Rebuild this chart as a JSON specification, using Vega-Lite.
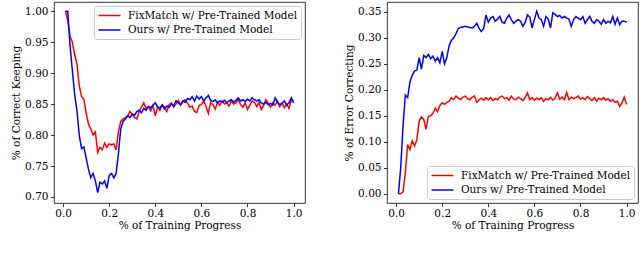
{
  "$schema": "https://vega.github.io/schema/vega-lite/v6.json",
  "padding": {"left": 10, "top": 1, "right": 0, "bottom": 0},
  "background": "white",
  "config": {
    "font": "DejaVu Serif",
    "view": {"stroke": "#000000", "strokeWidth": 0.8},
    "axis": {"grid": false, "domain": false, "tickColor": "#000000", "tickSize": 3.5, "tickWidth": 0.8, "labelFont": "DejaVu Serif", "labelFontSize": 10.5, "labelColor": "#000000", "labelPadding": 2.5, "titleFont": "DejaVu Serif", "titleFontSize": 10.5, "titleFontWeight": "normal", "titleColor": "#000000"},
    "axisX": {"titlePadding": 2, "labelPadding": 1.5},
    "axisY": {"titlePadding": 3.5},
    "legend": {"symbolType": "M-2,0H2", "symbolStrokeWidth": 1.5, "symbolSize": 121, "symbolOffset": 6, "labelFont": "DejaVu Serif", "labelFontSize": 10.5, "labelColor": "#000000", "labelLimit": 300, "strokeColor": "#cccccc", "fillColor": "#ffffff", "cornerRadius": 3, "padding": 3, "offset": 4, "labelOffset": 12, "rowPadding": 2.5}
  },
  "datasets": {
    "ck": [
      {"p":0.01,"fix":1.000,"ours":1.000},{"p":0.02,"fix":0.985,"ours":1.000},{"p":0.03,"fix":0.960,"ours":0.945},{"p":0.04,"fix":0.950,"ours":0.905},{"p":0.05,"fix":0.930,"ours":0.866},
      {"p":0.06,"fix":0.915,"ours":0.840},{"p":0.07,"fix":0.880,"ours":0.800},{"p":0.08,"fix":0.862,"ours":0.778},{"p":0.09,"fix":0.858,"ours":0.781},{"p":0.10,"fix":0.835,"ours":0.763},
      {"p":0.11,"fix":0.818,"ours":0.745},{"p":0.12,"fix":0.810,"ours":0.731},{"p":0.13,"fix":0.800,"ours":0.738},{"p":0.14,"fix":0.805,"ours":0.726},{"p":0.15,"fix":0.772,"ours":0.707},
      {"p":0.16,"fix":0.780,"ours":0.724},{"p":0.17,"fix":0.776,"ours":0.721},{"p":0.18,"fix":0.787,"ours":0.726},{"p":0.19,"fix":0.780,"ours":0.714},{"p":0.20,"fix":0.786,"ours":0.735},
      {"p":0.21,"fix":0.784,"ours":0.738},{"p":0.22,"fix":0.786,"ours":0.731},{"p":0.23,"fix":0.776,"ours":0.738},{"p":0.24,"fix":0.805,"ours":0.770},{"p":0.25,"fix":0.822,"ours":0.810},
      {"p":0.26,"fix":0.826,"ours":0.822},{"p":0.27,"fix":0.828,"ours":0.826},{"p":0.28,"fix":0.830,"ours":0.831},{"p":0.29,"fix":0.838,"ours":0.828},{"p":0.30,"fix":0.833,"ours":0.834},
      {"p":0.31,"fix":0.828,"ours":0.832},{"p":0.32,"fix":0.826,"ours":0.838},{"p":0.33,"fix":0.838,"ours":0.840},{"p":0.34,"fix":0.845,"ours":0.836},{"p":0.35,"fix":0.852,"ours":0.843},
      {"p":0.36,"fix":0.843,"ours":0.840},{"p":0.37,"fix":0.846,"ours":0.846},{"p":0.38,"fix":0.839,"ours":0.844},{"p":0.39,"fix":0.848,"ours":0.848},{"p":0.40,"fix":0.831,"ours":0.852},
      {"p":0.41,"fix":0.846,"ours":0.845},{"p":0.42,"fix":0.840,"ours":0.844},{"p":0.43,"fix":0.849,"ours":0.848},{"p":0.44,"fix":0.845,"ours":0.842},{"p":0.45,"fix":0.838,"ours":0.847},
      {"p":0.46,"fix":0.849,"ours":0.845},{"p":0.47,"fix":0.852,"ours":0.850},{"p":0.48,"fix":0.845,"ours":0.847},{"p":0.49,"fix":0.850,"ours":0.855},{"p":0.50,"fix":0.856,"ours":0.852},
      {"p":0.51,"fix":0.848,"ours":0.849},{"p":0.52,"fix":0.855,"ours":0.855},{"p":0.53,"fix":0.857,"ours":0.853},{"p":0.54,"fix":0.851,"ours":0.859},{"p":0.55,"fix":0.845,"ours":0.857},
      {"p":0.56,"fix":0.847,"ours":0.862},{"p":0.57,"fix":0.838,"ours":0.855},{"p":0.58,"fix":0.836,"ours":0.863},{"p":0.59,"fix":0.848,"ours":0.858},{"p":0.60,"fix":0.849,"ours":0.862},
      {"p":0.61,"fix":0.855,"ours":0.855},{"p":0.62,"fix":0.846,"ours":0.860},{"p":0.63,"fix":0.835,"ours":0.864},{"p":0.64,"fix":0.852,"ours":0.856},{"p":0.65,"fix":0.849,"ours":0.854},
      {"p":0.66,"fix":0.842,"ours":0.857},{"p":0.67,"fix":0.853,"ours":0.852},{"p":0.68,"fix":0.848,"ours":0.855},{"p":0.69,"fix":0.855,"ours":0.853},{"p":0.70,"fix":0.850,"ours":0.856},
      {"p":0.71,"fix":0.852,"ours":0.852},{"p":0.72,"fix":0.847,"ours":0.855},{"p":0.73,"fix":0.855,"ours":0.857},{"p":0.74,"fix":0.850,"ours":0.853},{"p":0.75,"fix":0.852,"ours":0.856},
      {"p":0.76,"fix":0.858,"ours":0.860},{"p":0.77,"fix":0.849,"ours":0.855},{"p":0.78,"fix":0.845,"ours":0.857},{"p":0.79,"fix":0.852,"ours":0.854},{"p":0.80,"fix":0.841,"ours":0.858},
      {"p":0.81,"fix":0.848,"ours":0.855},{"p":0.82,"fix":0.855,"ours":0.860},{"p":0.83,"fix":0.853,"ours":0.857},{"p":0.84,"fix":0.846,"ours":0.855},{"p":0.85,"fix":0.853,"ours":0.857},
      {"p":0.86,"fix":0.841,"ours":0.852},{"p":0.87,"fix":0.848,"ours":0.850},{"p":0.88,"fix":0.857,"ours":0.853},{"p":0.89,"fix":0.851,"ours":0.849},{"p":0.90,"fix":0.845,"ours":0.851},
      {"p":0.91,"fix":0.852,"ours":0.848},{"p":0.92,"fix":0.848,"ours":0.860},{"p":0.93,"fix":0.855,"ours":0.853},{"p":0.94,"fix":0.846,"ours":0.849},{"p":0.95,"fix":0.852,"ours":0.851},
      {"p":0.96,"fix":0.844,"ours":0.855},{"p":0.97,"fix":0.850,"ours":0.848},{"p":0.98,"fix":0.843,"ours":0.852},{"p":0.99,"fix":0.856,"ours":0.860},{"p":1.00,"fix":0.855,"ours":0.852}
    ],
    "ec": [
      {"p":0.01,"fix":0.000,"ours":0.000},{"p":0.02,"fix":0.000,"ours":0.050},{"p":0.03,"fix":0.004,"ours":0.130},{"p":0.04,"fix":0.040,"ours":0.190},{"p":0.05,"fix":0.095,"ours":0.185},
      {"p":0.06,"fix":0.085,"ours":0.215},{"p":0.07,"fix":0.102,"ours":0.228},{"p":0.08,"fix":0.092,"ours":0.236},{"p":0.09,"fix":0.104,"ours":0.238},{"p":0.10,"fix":0.140,"ours":0.262},
      {"p":0.11,"fix":0.148,"ours":0.240},{"p":0.12,"fix":0.143,"ours":0.266},{"p":0.13,"fix":0.124,"ours":0.262},{"p":0.14,"fix":0.149,"ours":0.268},{"p":0.15,"fix":0.150,"ours":0.260},
      {"p":0.16,"fix":0.155,"ours":0.265},{"p":0.17,"fix":0.165,"ours":0.255},{"p":0.18,"fix":0.158,"ours":0.262},{"p":0.19,"fix":0.170,"ours":0.252},{"p":0.20,"fix":0.175,"ours":0.274},
      {"p":0.21,"fix":0.172,"ours":0.250},{"p":0.22,"fix":0.176,"ours":0.262},{"p":0.23,"fix":0.178,"ours":0.285},{"p":0.24,"fix":0.185,"ours":0.295},{"p":0.25,"fix":0.181,"ours":0.300},
      {"p":0.26,"fix":0.188,"ours":0.308},{"p":0.27,"fix":0.184,"ours":0.318},{"p":0.28,"fix":0.181,"ours":0.320},{"p":0.29,"fix":0.186,"ours":0.321},{"p":0.30,"fix":0.188,"ours":0.322},
      {"p":0.31,"fix":0.183,"ours":0.321},{"p":0.32,"fix":0.181,"ours":0.320},{"p":0.33,"fix":0.186,"ours":0.319},{"p":0.34,"fix":0.188,"ours":0.322},{"p":0.35,"fix":0.176,"ours":0.328},
      {"p":0.36,"fix":0.181,"ours":0.318},{"p":0.37,"fix":0.184,"ours":0.312},{"p":0.38,"fix":0.180,"ours":0.318},{"p":0.39,"fix":0.185,"ours":0.344},{"p":0.40,"fix":0.181,"ours":0.330},
      {"p":0.41,"fix":0.185,"ours":0.338},{"p":0.42,"fix":0.179,"ours":0.341},{"p":0.43,"fix":0.183,"ours":0.332},{"p":0.44,"fix":0.181,"ours":0.336},{"p":0.45,"fix":0.186,"ours":0.341},
      {"p":0.46,"fix":0.188,"ours":0.330},{"p":0.47,"fix":0.183,"ours":0.328},{"p":0.48,"fix":0.185,"ours":0.338},{"p":0.49,"fix":0.180,"ours":0.344},{"p":0.50,"fix":0.188,"ours":0.335},
      {"p":0.51,"fix":0.182,"ours":0.328},{"p":0.52,"fix":0.181,"ours":0.332},{"p":0.53,"fix":0.186,"ours":0.335},{"p":0.54,"fix":0.183,"ours":0.332},{"p":0.55,"fix":0.179,"ours":0.322},
      {"p":0.56,"fix":0.185,"ours":0.330},{"p":0.57,"fix":0.194,"ours":0.344},{"p":0.58,"fix":0.181,"ours":0.340},{"p":0.59,"fix":0.185,"ours":0.319},{"p":0.60,"fix":0.180,"ours":0.335},
      {"p":0.61,"fix":0.184,"ours":0.351},{"p":0.62,"fix":0.181,"ours":0.338},{"p":0.63,"fix":0.185,"ours":0.335},{"p":0.64,"fix":0.178,"ours":0.322},{"p":0.65,"fix":0.183,"ours":0.341},
      {"p":0.66,"fix":0.181,"ours":0.336},{"p":0.67,"fix":0.186,"ours":0.319},{"p":0.68,"fix":0.180,"ours":0.348},{"p":0.69,"fix":0.184,"ours":0.345},{"p":0.70,"fix":0.194,"ours":0.341},
      {"p":0.71,"fix":0.182,"ours":0.343},{"p":0.72,"fix":0.186,"ours":0.338},{"p":0.73,"fix":0.181,"ours":0.341},{"p":0.74,"fix":0.195,"ours":0.338},{"p":0.75,"fix":0.181,"ours":0.336},
      {"p":0.76,"fix":0.186,"ours":0.322},{"p":0.77,"fix":0.183,"ours":0.335},{"p":0.78,"fix":0.185,"ours":0.341},{"p":0.79,"fix":0.188,"ours":0.338},{"p":0.80,"fix":0.182,"ours":0.335},
      {"p":0.81,"fix":0.185,"ours":0.341},{"p":0.82,"fix":0.181,"ours":0.328},{"p":0.83,"fix":0.187,"ours":0.335},{"p":0.84,"fix":0.183,"ours":0.341},{"p":0.85,"fix":0.179,"ours":0.332},
      {"p":0.86,"fix":0.185,"ours":0.328},{"p":0.87,"fix":0.178,"ours":0.335},{"p":0.88,"fix":0.184,"ours":0.332},{"p":0.89,"fix":0.181,"ours":0.326},{"p":0.90,"fix":0.185,"ours":0.335},
      {"p":0.91,"fix":0.180,"ours":0.328},{"p":0.92,"fix":0.183,"ours":0.332},{"p":0.93,"fix":0.178,"ours":0.329},{"p":0.94,"fix":0.181,"ours":0.341},{"p":0.95,"fix":0.176,"ours":0.326},
      {"p":0.96,"fix":0.178,"ours":0.338},{"p":0.97,"fix":0.168,"ours":0.325},{"p":0.98,"fix":0.175,"ours":0.332},{"p":0.99,"fix":0.186,"ours":0.332},{"p":1.00,"fix":0.172,"ours":0.330}
    ]
  },
  "spacing": 82,
  "bounds": "flush",
  "resolve": {"scale": {"color": "independent"}, "legend": {"color": "independent"}},
  "hconcat": [
    {
      "width": 251,
      "height": 201,
      "data": {"name": "ck"},
      "transform": [{"fold": ["fix", "ours"], "as": ["method", "value"]}],
      "mark": {"type": "line", "strokeWidth": 1.5, "clip": true},
      "encoding": {
        "x": {"field": "p", "type": "quantitative", "scale": {"domain": [-0.0395, 1.0495], "nice": false, "zero": false}, "axis": {"values": [0, 0.2, 0.4, 0.6, 0.8, 1.0], "format": ".1f", "title": "% of Training Progress"}},
        "y": {"field": "value", "type": "quantitative", "scale": {"domain": [0.6903, 1.0148], "nice": false, "zero": false}, "axis": {"values": [0.70, 0.75, 0.80, 0.85, 0.90, 0.95, 1.00], "format": ".2f", "title": "% of Correct Keeping"}},
        "color": {"field": "method", "type": "nominal", "scale": {"domain": ["fix", "ours"], "range": ["#ff0000", "#0000ff"]}, "legend": {"orient": "top-right", "title": null, "labelExpr": "datum.label == 'fix' ? 'FixMatch w/ Pre-Trained Model' : 'Ours w/ Pre-Trained Model'"}}
      }
    },
    {
      "width": 251,
      "height": 201,
      "data": {"name": "ec"},
      "transform": [{"fold": ["fix", "ours"], "as": ["method", "value"]}],
      "mark": {"type": "line", "strokeWidth": 1.5, "clip": true},
      "encoding": {
        "x": {"field": "p", "type": "quantitative", "scale": {"domain": [-0.0395, 1.0495], "nice": false, "zero": false}, "axis": {"values": [0, 0.2, 0.4, 0.6, 0.8, 1.0], "format": ".1f", "title": "% of Training Progress"}},
        "y": {"field": "value", "type": "quantitative", "scale": {"domain": [-0.0176, 0.3689], "nice": false, "zero": false}, "axis": {"values": [0, 0.05, 0.10, 0.15, 0.20, 0.25, 0.30, 0.35], "format": ".2f", "title": "% of Error Correcting"}},
        "color": {"field": "method", "type": "nominal", "scale": {"domain": ["fix", "ours"], "range": ["#ff0000", "#0000ff"]}, "legend": {"orient": "bottom-right", "title": null, "labelExpr": "datum.label == 'fix' ? 'FixMatch w/ Pre-Trained Model' : 'Ours w/ Pre-Trained Model'"}}
      }
    }
  ]
}
